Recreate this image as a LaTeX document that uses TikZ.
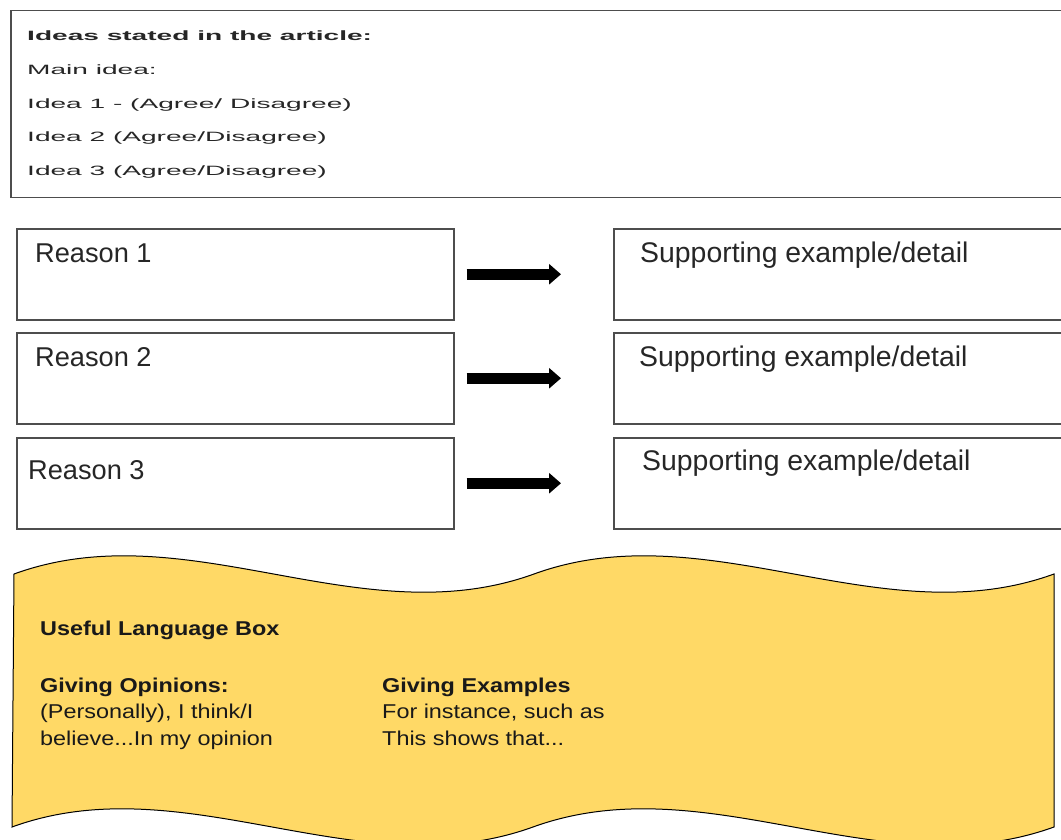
\documentclass[tikz,border=0pt]{standalone}
\usepackage{fontspec}
\setmainfont{Liberation Sans}
\newfontfamily\widefont[FakeStretch=2.08]{Liberation Sans}
\newfontfamily\langfont[FakeStretch=1.17]{Liberation Sans}
\usetikzlibrary{arrows.meta}
\definecolor{langyellow}{HTML}{FFD966}
\definecolor{boxline}{HTML}{4D4D4D}

\begin{document}
\begin{tikzpicture}[x=1pt, y=-1pt,
    frame/.style={draw=boxline, line width=1.5pt, rectangle, anchor=north west, inner sep=0pt},
    idealine/.style={anchor=base west, inner sep=0pt, text=black!85, font=\widefont\fontsize{13.5}{16}\selectfont},
    reasontext/.style={anchor=base west, inner sep=0pt, text=black!85, font=\fontsize{27.2}{30}\selectfont},
    supporttext/.style={reasontext, font=\fontsize{28.4}{32}\selectfont},
    fatarrow/.style={line width=11pt, -{Triangle[width=20pt,length=12pt]}, shorten <=12pt, shorten >=52pt},
    langtext/.style={anchor=base west, inner sep=0pt, text=black!90, font=\langfont\fontsize{20}{24}\selectfont},
    langhead/.style={langtext, font=\langfont\bfseries\fontsize{20}{24}\selectfont}]
    \path[use as bounding box, clip] (0,0) rectangle (1061,840);

    % Ideas box at the top
    \node[frame, minimum width=1080pt, minimum height=187pt] (ideas) at (10,10) {};
    \node[idealine, font=\widefont\bfseries\fontsize{13.5}{16}\selectfont] (heading) at (27,41) {Ideas stated in the article:};
    \foreach \txt [count=\k] in {Main idea:, Idea 1 - (Agree/ Disagree), Idea 2 (Agree/Disagree), Idea 3 (Agree/Disagree)}
        \node[idealine] (idea\k) at (27,{75+33.4*(\k-1)}) {\txt};

    % Reasons and their supporting details
    \foreach \i/\y/\tx/\ty/\sx/\sy in {1/228/35/262/640/262, 2/332/35/366/639/366, 3/437/28/479/642/470} {
        \node[frame, minimum width=437pt, minimum height=91pt] (reason\i) at (16,\y) {};
        \node[frame, minimum width=460pt, minimum height=91pt] (support\i) at (613,\y) {};
        \node[reasontext] (reasonlabel\i) at (\tx,\ty) {Reason \i};
        \node[supporttext] (supportlabel\i) at (\sx,\sy) {Supporting example/detail};
        \draw[fatarrow] (reason\i) -- (support\i);
    }

    % Useful language box (double wave)
    \filldraw[fill=langyellow, draw=black, line width=1pt]
        (14,574) .. controls (187,511) and (360,637) .. (534,574)
        .. controls (707,511) and (881,637) .. (1054,574)
        -- (1054,827) .. controls (880,890) and (707,764) .. (533,827)
        .. controls (359,890) and (185,764) .. (12,827) -- cycle;
    \node[langhead] (langtitle) at (40,635) {Useful Language Box};
    \node[langhead] (opinionhead) at (40,692) {Giving Opinions:};
    \node[langtext] (opinion1) at (40,718.5) {(Personally), I think/I};
    \node[langtext] (opinion2) at (40,745) {believe...In my opinion};
    \node[langhead] (examplehead) at (382,692) {Giving Examples};
    \node[langtext] (example1) at (382,718.5) {For instance, such as};
    \node[langtext] (example2) at (382,745) {This shows that...};
\end{tikzpicture}
\end{document}
